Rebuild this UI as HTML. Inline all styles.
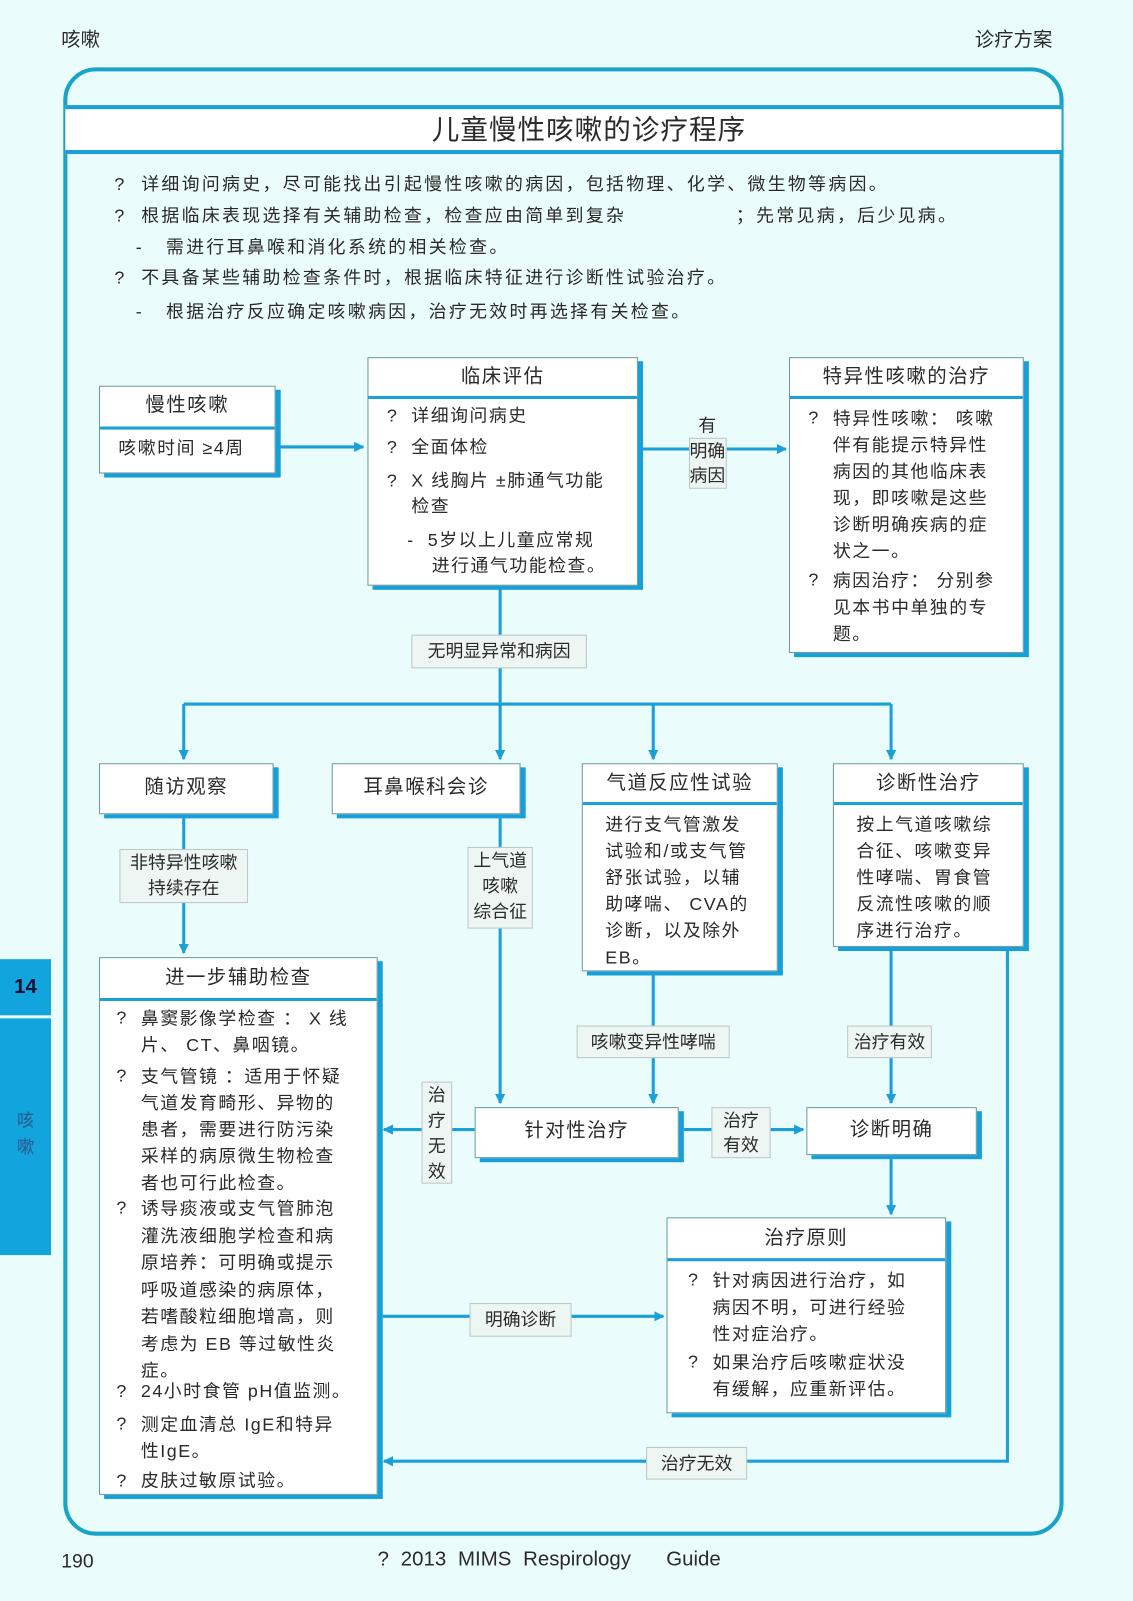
<!DOCTYPE html>
<html><head><meta charset="utf-8">
<style>
html,body{margin:0;padding:0;background:#eafcfb;}
body{width:1133px;height:1601px;overflow:hidden;}
#w{position:absolute;left:0;top:0;width:1110px;height:1569px;transform-origin:0 0;transform:scale(1.0207,1.0204);font-family:"Liberation Sans","Noto Sans CJK SC",sans-serif;color:#2a2a2a;}
.a{position:absolute;}
.box{position:absolute;background:#fff;border:1.5px solid #6a9a9a;box-shadow:5px 4px 0 #169fd8;box-sizing:border-box;}
.hd{position:absolute;left:0;right:0;top:0;text-align:center;font-size:19px;letter-spacing:1.5px;border-bottom:3px solid #1a9fd6;box-sizing:border-box;}
.t{position:absolute;font-size:17.5px;line-height:25px;white-space:nowrap;letter-spacing:1.5px;}
.tb{letter-spacing:2.3px;}
.lab{position:absolute;background:#eef6f3;border:1px solid #b8c8c4;font-size:17.5px;line-height:24px;text-align:center;box-sizing:border-box;white-space:nowrap;}
</style></head><body><div id="w">
<div class="a" style="left:60px;top:24px;font-size:19px">咳嗽</div>
<div class="a" style="left:955px;top:24px;font-size:19px">诊疗方案</div>

<div class="a" style="left:62px;top:66px;width:980px;height:1439px;border:4px solid #1aa3c8;border-radius:32px;box-sizing:border-box;"></div>
<div class="a" style="left:64px;top:103px;width:976px;height:48px;background:#fff;border-top:4px solid #1a9fd6;border-bottom:4px solid #1a9fd6;box-sizing:border-box;text-align:center;padding-left:50px;font-size:27px;letter-spacing:1px;line-height:40px;">儿童慢性咳嗽的诊疗程序</div>

<div class="t tb" style="left:112px;top:168px">?&nbsp; 详细询问病史，尽可能找出引起慢性咳嗽的病因，包括物理、化学、微生物等病因。</div>
<div class="t tb" style="left:112px;top:199px">?&nbsp; 根据临床表现选择有关辅助检查，检查应由简单到复杂 &nbsp; &nbsp; &nbsp; &nbsp; &nbsp; &nbsp; &nbsp; ；先常见病，后少见病。</div>
<div class="t tb" style="left:133px;top:230px">-&nbsp;&nbsp; 需进行耳鼻喉和消化系统的相关检查。</div>
<div class="t tb" style="left:112px;top:260px">?&nbsp; 不具备某些辅助检查条件时，根据临床特征进行诊断性试验治疗。</div>
<div class="t tb" style="left:133px;top:293px">-&nbsp;&nbsp; 根据治疗反应确定咳嗽病因，治疗无效时再选择有关检查。</div>

<svg class="a" style="left:0;top:0" width="1110" height="1569">
<defs><marker id="m" markerWidth="10" markerHeight="10" refX="9" refY="5" orient="auto" markerUnits="userSpaceOnUse"><path d="M0,0 L10,5 L0,10 z" fill="#1a9fd6"/></marker></defs>
<g stroke="#1a9fd6" stroke-width="3" fill="none">
<line x1="272" y1="438" x2="356" y2="438" marker-end="url(#m)"/>
<line x1="630" y1="440" x2="770" y2="440" marker-end="url(#m)"/>
<line x1="490" y1="576" x2="490" y2="690"/>
<line x1="180" y1="690" x2="873" y2="690"/>
<line x1="180" y1="690" x2="180" y2="744" marker-end="url(#m)"/>
<line x1="490" y1="690" x2="490" y2="744" marker-end="url(#m)"/>
<line x1="640" y1="690" x2="640" y2="744" marker-end="url(#m)"/>
<line x1="873" y1="690" x2="873" y2="744" marker-end="url(#m)"/>
<line x1="180" y1="802" x2="180" y2="934" marker-end="url(#m)"/>
<line x1="490" y1="802" x2="490" y2="1081" marker-end="url(#m)"/>
<line x1="640" y1="956" x2="640" y2="1081" marker-end="url(#m)"/>
<line x1="873" y1="932" x2="873" y2="1081" marker-end="url(#m)"/>
<line x1="465" y1="1107" x2="376" y2="1107" marker-end="url(#m)"/>
<line x1="670" y1="1107" x2="787" y2="1107" marker-end="url(#m)"/>
<line x1="873" y1="1136" x2="873" y2="1190" marker-end="url(#m)"/>
<line x1="375" y1="1290" x2="650" y2="1290" marker-end="url(#m)"/>
<polyline points="987,932 987,1432 376,1432" marker-end="url(#m)"/>
</g>
</svg>

<div class="box" style="left:97px;top:378px;width:173px;height:86px">
<div class="hd" style="height:42px;line-height:38px">慢性咳嗽</div>
<div class="t" style="left:18px;top:48px">咳嗽时间 ≥4周</div></div>

<div class="box" style="left:360px;top:350px;width:265px;height:224px">
<div class="hd" style="height:40px;line-height:38px">临床评估</div>
<div class="t" style="left:18px;top:44px">?&nbsp; 详细询问病史</div>
<div class="t" style="left:18px;top:75px">?&nbsp; 全面体检</div>
<div class="t" style="left:18px;top:108px">?&nbsp; X 线胸片 ±肺通气功能</div>
<div class="t" style="left:42px;top:133px">检查</div>
<div class="t" style="left:38px;top:166px">-&nbsp; 5岁以上儿童应常规</div>
<div class="t" style="left:62px;top:191px">进行通气功能检查。</div></div>

<div class="box" style="left:773px;top:350px;width:230px;height:290px">
<div class="hd" style="height:40px;line-height:38px">特异性咳嗽的治疗</div>
<div class="t" style="left:18px;top:46px">?</div>
<div class="t" style="left:42px;top:46px;line-height:26px">特异性咳嗽： 咳嗽<br>伴有能提示特异性<br>病因的其他临床表<br>现，即咳嗽是这些<br>诊断明确疾病的症<br>状之一。</div>
<div class="t" style="left:18px;top:205px">?</div>
<div class="t" style="left:42px;top:205px;line-height:26px">病因治疗： 分别参<br>见本书中单独的专<br>题。</div></div>

<div class="lab" style="left:663px;top:405px;width:60px;height:75px;line-height:24px;border:none;background:transparent">有<br><span style="background:#eef6f3;border:1px solid #b8c8c4;display:inline-block">明确<br>病因</span></div>
<div class="lab" style="left:403px;top:622px;width:172px;height:33px;line-height:31px">无明显异常和病因</div>

<div class="box" style="left:97px;top:748px;width:171px;height:50px"><div class="hd" style="height:48px;line-height:46px;border:none">随访观察</div></div>
<div class="box" style="left:325px;top:748px;width:185px;height:50px"><div class="hd" style="height:48px;line-height:46px;border:none">耳鼻喉科会诊</div></div>

<div class="box" style="left:570px;top:748px;width:192px;height:204px">
<div class="hd" style="height:40px;line-height:38px">气道反应性试验</div>
<div class="t" style="left:22px;top:46px;line-height:26px">进行支气管激发<br>试验和/或支气管<br>舒张试验，以辅<br>助哮喘、 CVA的<br>诊断，以及除外<br>EB。</div></div>

<div class="box" style="left:816px;top:748px;width:187px;height:180px">
<div class="hd" style="height:40px;line-height:38px">诊断性治疗</div>
<div class="t" style="left:22px;top:46px;line-height:26px">按上气道咳嗽综<br>合征、咳嗽变异<br>性哮喘、胃食管<br>反流性咳嗽的顺<br>序进行治疗。</div></div>

<div class="lab" style="left:117px;top:832px;width:126px;height:53px;line-height:25px">非特异性咳嗽<br>持续存在</div>
<div class="lab" style="left:458px;top:830px;width:64px;height:80px;line-height:25px">上气道<br>咳嗽<br>综合征</div>
<div class="lab" style="left:565px;top:1005px;width:150px;height:32px;line-height:30px">咳嗽变异性哮喘</div>
<div class="lab" style="left:830px;top:1005px;width:83px;height:32px;line-height:30px">治疗有效</div>

<div class="box" style="left:97px;top:938px;width:273px;height:527px">
<div class="hd" style="height:42px;line-height:40px">进一步辅助检查</div>
<div class="t" style="left:16px;top:46px">?</div>
<div class="t" style="left:40px;top:46px;line-height:26px">鼻窦影像学检查 ： X 线<br>片、 CT、鼻咽镜。</div>
<div class="t" style="left:16px;top:103px">?</div>
<div class="t" style="left:40px;top:103px;line-height:26px">支气管镜 ：适用于怀疑<br>气道发育畸形、异物的<br>患者，需要进行防污染<br>采样的病原微生物检查<br>者也可行此检查。</div>
<div class="t" style="left:16px;top:232px">?</div>
<div class="t" style="left:40px;top:232px;line-height:26.5px">诱导痰液或支气管肺泡<br>灌洗液细胞学检查和病<br>原培养：可明确或提示<br>呼吸道感染的病原体，<br>若嗜酸粒细胞增高，则<br>考虑为 EB 等过敏性炎<br>症。</div>
<div class="t" style="left:16px;top:412px">?</div>
<div class="t" style="left:40px;top:412px">24小时食管 pH值监测。</div>
<div class="t" style="left:16px;top:444px">?</div>
<div class="t" style="left:40px;top:444px;line-height:26px">测定血清总 IgE和特异<br>性IgE。</div>
<div class="t" style="left:16px;top:500px">?</div>
<div class="t" style="left:40px;top:500px">皮肤过敏原试验。</div></div>

<div class="box" style="left:465px;top:1085px;width:200px;height:50px"><div class="hd" style="height:48px;line-height:46px;border:none">针对性治疗</div></div>
<div class="box" style="left:790px;top:1085px;width:167px;height:47px"><div class="hd" style="height:45px;line-height:43px;border:none">诊断明确</div></div>

<div class="lab" style="left:413px;top:1060px;width:30px;height:100px;line-height:25px">治<br>疗<br>无<br>效</div>
<div class="lab" style="left:697px;top:1085px;width:58px;height:50px;line-height:24px">治疗<br>有效</div>

<div class="box" style="left:653px;top:1193px;width:274px;height:192px">
<div class="hd" style="height:42px;line-height:40px">治疗原则</div>
<div class="t" style="left:20px;top:48px">?</div>
<div class="t" style="left:44px;top:48px;line-height:26px">针对病因进行治疗，如<br>病因不明，可进行经验<br>性对症治疗。</div>
<div class="t" style="left:20px;top:128px">?</div>
<div class="t" style="left:44px;top:128px;line-height:26px">如果治疗后咳嗽症状没<br>有缓解，应重新评估。</div></div>

<div class="lab" style="left:460px;top:1277px;width:100px;height:33px;line-height:31px">明确诊断</div>
<div class="lab" style="left:633px;top:1418px;width:99px;height:32px;line-height:30px">治疗无效</div>

<div class="a" style="left:0;top:940px;width:50px;height:55px;background:#12a4dc;color:#113;font-size:20px;line-height:55px;text-align:center;font-weight:bold">14</div>
<div class="a" style="left:0;top:998px;width:50px;height:232px;background:#12a4dc;color:#2a5a8a;font-size:17px;text-align:center;padding-top:88px;box-sizing:border-box;line-height:26px">咳<br>嗽</div>

<div class="a" style="left:60px;top:1520px;font-size:19px">190</div>
<div class="a" style="left:370px;top:1517px;font-size:20px;word-spacing:6px">? 2013 MIMS Respirology &nbsp; Guide</div>
</div></body></html>
